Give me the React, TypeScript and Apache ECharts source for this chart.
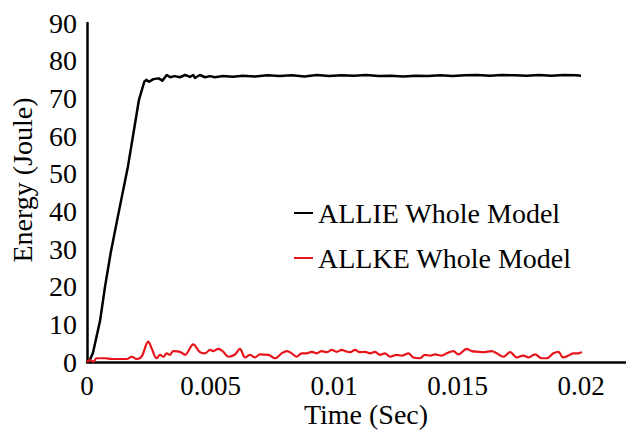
import React, { useEffect, useRef } from "react";
import * as echarts from "echarts";

const xTicks = [0, 0.005, 0.01, 0.015, 0.02];
const yTicks = [0, 10, 20, 30, 40, 50, 60, 70, 80, 90];

const allieTime = [
  0, 0.0001, 0.00024, 0.00053, 0.00073, 0.00096, 0.00123, 0.00166, 0.0021, 0.00232,
  0.0024, 0.00251, 0.00269, 0.0029, 0.00305, 0.00323, 0.00337, 0.00355, 0.00376, 0.00397,
  0.00417, 0.0043, 0.00437, 0.00457, 0.00478, 0.00498, 0.00518, 0.0055, 0.0059, 0.0063,
  0.0068, 0.0073, 0.0078, 0.0083, 0.0088, 0.0093, 0.0098, 0.0103, 0.0108, 0.0113,
  0.0118, 0.0123, 0.0128, 0.0133, 0.0138, 0.0143, 0.0148, 0.0153, 0.0158, 0.0163,
  0.0168, 0.0173, 0.0178, 0.0183, 0.0188, 0.0193, 0.0198, 0.02,
];
const allieValue = [
  0, 0.3, 2.4, 11, 20, 29, 38, 52, 69.5, 74.4,
  74.9, 74.4, 75.1, 75.3, 74.7, 76.2, 75.6, 75.9, 75.6, 76.2,
  75.7, 76.2, 75.4, 76.2, 75.6, 75.9, 75.6, 75.9, 75.7, 76.0,
  75.8, 76.1, 75.9, 76.1, 75.8, 76.2, 75.9, 76.1, 76.0, 76.2,
  75.9, 76.0, 75.8, 76.0, 75.9, 76.1, 75.9, 76.1, 76.2, 76.0,
  76.2, 76.1, 76.0, 76.2, 76.0, 76.2, 76.1, 76.0,
];

const allkeTime = [
  0, 0.00012, 0.00026, 0.00039, 0.00073, 0.001, 0.00161, 0.00181, 0.00201, 0.00221,
  0.00248, 0.00262, 0.00282, 0.00296, 0.00309, 0.00323, 0.00336, 0.00349, 0.00377, 0.00397,
  0.0043, 0.00457, 0.00478, 0.00498, 0.00511, 0.00532, 0.00552, 0.00572, 0.00599, 0.00619,
  0.0064, 0.0066, 0.0068, 0.007, 0.00734, 0.00761, 0.00788, 0.00809, 0.00829, 0.00849,
  0.00869, 0.00889, 0.0091, 0.0093, 0.0095, 0.0097, 0.00991, 0.01011, 0.01031, 0.01045,
  0.01065, 0.01085, 0.01105, 0.01126, 0.01146, 0.01166, 0.01186, 0.01206, 0.01227, 0.01254,
  0.01274, 0.01301, 0.01321, 0.01348, 0.01368, 0.01389, 0.01409, 0.01436, 0.01456, 0.01483,
  0.01503, 0.01537, 0.01557, 0.01584, 0.01604, 0.01638, 0.01659, 0.01685, 0.01713, 0.0174,
  0.01766, 0.01787, 0.01814, 0.01841, 0.01861, 0.01888, 0.01908, 0.01928, 0.01949, 0.01969,
  0.01989, 0.02003,
];
const allkeValue = [
  0, 0.5, 0.1, 1.0, 1.0, 0.8, 0.8, 1.4, 0.8, 1.4,
  5.4, 3.6, 1.0, 1.9, 1.4, 2.3, 1.9, 2.9, 2.7, 1.9,
  4.7, 2.6, 2.3, 3.2, 2.9, 3.5, 2.7, 1.4, 2.0, 3.5,
  1.2, 1.9, 1.2, 2.0, 1.9, 1.0, 2.3, 2.9, 2.3, 1.4,
  2.3, 2.3, 2.7, 2.3, 2.9, 2.6, 3.2, 2.7, 3.2, 2.9,
  2.6, 3.2, 2.6, 2.7, 2.3, 2.7, 1.9, 2.3, 1.4, 1.9,
  1.7, 2.3, 1.2, 1.0, 1.9, 1.7, 2.0, 1.7, 2.3, 2.9,
  2.0, 3.5, 2.9, 2.7, 2.6, 2.9, 2.3, 1.4, 2.6, 1.2,
  1.7, 1.2, 2.0, 1.0, 1.0, 2.3, 2.7, 1.2, 1.7, 2.3,
  2.3, 2.7,
];

const seriesNames = ["ALLIE Whole Model", "ALLKE Whole Model"];
const xTitle = "Time (Sec)";
const yTitle = "Energy (Joule)";

const FONT = '"Liberation Serif", "Times New Roman", serif';

export default function App() {
  const ref = useRef<HTMLDivElement>(null);
  useEffect(() => {
    document.body.style.margin = "0";
    if (!ref.current) return;
    const chart = echarts.init(ref.current, undefined, { renderer: "svg" });
    const step = xTicks[1] - xTicks[0];
    chart.setOption({
      animation: false,
      backgroundColor: "#ffffff",
      grid: { left: 87, right: 0, top: 23, bottom: 70, containLabel: false },
      xAxis: {
        type: "value",
        min: 0,
        max: 0.02182,
        interval: step,
        axisLine: { show: true, lineStyle: { color: "#000", width: 2.5 } },
        axisTick: { show: false },
        splitLine: { show: false },
        axisLabel: {
          color: "#000",
          fontFamily: FONT,
          fontSize: 27,
          margin: 10,
          showMaxLabel: false,
          formatter: (v: number) => {
            const k = v / step;
            if (Math.abs(k - Math.round(k)) > 1e-6) return "";
            const t = xTicks.find((x) => Math.abs(x - v) < 1e-9);
            return t === undefined ? "" : String(t);
          },
        },
      },
      yAxis: {
        type: "value",
        min: yTicks[0],
        max: yTicks[yTicks.length - 1],
        interval: yTicks[1] - yTicks[0],
        axisLine: { show: true, lineStyle: { color: "#000", width: 2.5 } },
        axisTick: { show: false },
        splitLine: { show: false },
        axisLabel: { color: "#000", fontFamily: FONT, fontSize: 28, margin: 10 },
      },
      legend: {
        orient: "vertical",
        left: 289,
        top: 194,
        itemGap: 17,
        itemWidth: 19,
        itemHeight: 2,
        icon: "rect",
        textStyle: { color: "#000", fontFamily: FONT, fontSize: 28, padding: [0, 0, 0, 0] },
        data: seriesNames,
      },
      graphic: [
        {
          type: "text",
          x: 22,
          y: 180,
          rotation: Math.PI / 2,
          style: {
            text: yTitle,
            fill: "#000",
            font: `28px ${FONT}`,
            textAlign: "center",
            textVerticalAlign: "middle",
          },
        },
        {
          type: "text",
          x: 366,
          y: 414,
          style: {
            text: xTitle,
            fill: "#000",
            font: `28px ${FONT}`,
            textAlign: "center",
            textVerticalAlign: "middle",
          },
        },
      ],
      series: [
        {
          name: seriesNames[0],
          type: "line",
          data: allieTime.map((t, i) => [t, allieValue[i]]),
          symbol: "none",
          smooth: false,
          lineStyle: { color: "#000", width: 2.5, join: "round" },
          itemStyle: { color: "#000" },
        },
        {
          name: seriesNames[1],
          type: "line",
          data: allkeTime.map((t, i) => [t, allkeValue[i]]),
          symbol: "none",
          smooth: 0.35,
          lineStyle: { color: "#e8141b", width: 2.2 },
          itemStyle: { color: "#e8141b" },
        },
      ],
    });
    return () => chart.dispose();
  }, []);
  return <div ref={ref} style={{ width: 626, height: 432 }} />;
}
